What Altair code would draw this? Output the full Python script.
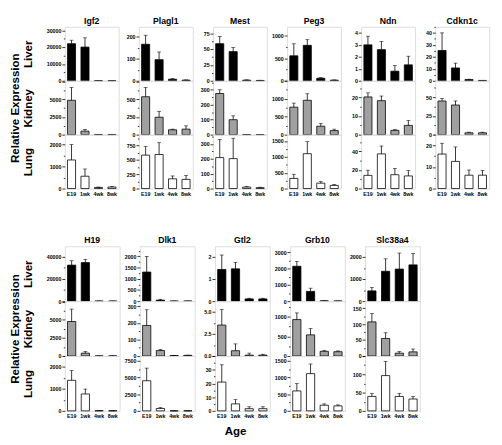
import altair as alt
import pandas as pd

ages = ["E19", "1wk", "4wk", "8wk"]
tissues = ["Liver", "Kidney", "Lung"]
tissue_fill = ["#000000", "#a0a0a0", "#ffffff"]

genes_top = ["Igf2", "Plagl1", "Mest", "Peg3", "Ndn", "Cdkn1c"]
genes_bottom = ["H19", "Dlk1", "Gtl2", "Grb10", "Slc38a4"]

# rows: Liver, Kidney, Lung ; columns: E19, 1wk, 4wk, 8wk
igf2_mean = [[22000, 20000, 80, 50], [4850, 500, 30, 30], [1300, 560, 50, 70]]
igf2_err = [[2100, 5500, 0, 0], [1800, 250, 0, 0], [700, 330, 20, 25]]
igf2_ymax = [32000, 7600, 2450]
igf2_major = [10000, 2500, 1000]

plagl1_mean = [[166, 96, 7, 3], [535, 246, 69, 78], [583, 594, 170, 160]]
plagl1_err = [[41, 35, 3, 1], [130, 83, 9, 46], [150, 206, 50, 70]]
plagl1_ymax = [245, 760, 940]
plagl1_major = [100, 250, 250]

mest_mean = [[58.5, 46, 1, 0.5], [275, 100, 1, 1], [208, 201, 10, 6]]
mest_err = [[11.5, 6.5, 0.5, 0.3], [25, 26, 0, 0], [122, 137, 5, 3]]
mest_ymax = [85, 360, 362]
mest_major = [25, 100, 100]

peg3_mean = [[556, 789, 56, 14], [765, 957, 235, 113], [320, 1100, 170, 100]]
peg3_err = [[268, 126, 14, 5], [113, 182, 78, 40], [130, 380, 50, 30]]
peg3_ymax = [1200, 1500, 1700]
peg3_major = [500, 500, 500]

ndn_mean = [[3.0, 2.6, 0.8, 1.33], [20.3, 18.3, 2.3, 5.0], [14.2, 37.3, 14.9, 13.6]]
ndn_err = [[0.72, 0.69, 0.48, 0.72], [2.2, 2.5, 0.5, 2.7], [5.5, 8.5, 6.8, 5.7]]
ndn_ymax = [4.5, 29, 58]
ndn_major = [1, 10, 20]

cdkn1c_mean = [[25.3, 10.7, 1, 0.3], [45, 39.6, 2.5, 2.5], [16, 12.6, 6.2, 6.2]]
cdkn1c_err = [[14.7, 4, 0.3, 0], [3.3, 5.4, 0.8, 0.8], [5, 6.7, 2.4, 2.2]]
cdkn1c_ymax = [45, 72, 25]
cdkn1c_major = [10, 25, 10]

h19_mean = [[32500, 34800, 100, 50], [4780, 400, 10, 10], [1393, 770, 8, 5]]
h19_err = [[4000, 2900, 0, 0], [1720, 220, 0, 0], [444, 223, 0, 0]]
h19_ymax = [49500, 7600, 2500]
h19_major = [20000, 2500, 1000]

dlk1_mean = [[1300, 45, 5, 5], [185, 33, 3, 4], [4530, 360, 10, 10]]
dlk1_err = [[700, 40, 0, 0], [95, 6, 1, 1], [1900, 130, 0, 0]]
dlk1_ymax = [2450, 332, 8250]
dlk1_major = [500, 100, 2500]

gtl2_mean = [[1.42, 1.45, 0.1, 0.1], [3.5, 0.6, 0.1, 0.1], [21, 5.1, 1.6, 1.6]]
gtl2_err = [[0.65, 0.29, 0.03, 0.03], [1.75, 0.77, 0.23, 0.1], [12.6, 3.1, 1.4, 1.4]]
gtl2_ymax = [2.46, 6.2, 40]
gtl2_major = [1, 2.5, 10]

grb10_mean = [[2150, 600, 20, 10], [930, 540, 120, 110], [600, 1120, 170, 150]]
grb10_err = [[300, 200, 0, 0], [170, 160, 25, 20], [220, 290, 40, 30]]
grb10_ymax = [3380, 1400, 1650]
grb10_major = [1000, 500, 500]

slc38a4_mean = [[464, 1350, 1450, 1640], [107, 55, 9, 13], [39.5, 96.5, 39.5, 32.5]]
slc38a4_err = [[160, 565, 725, 520], [26, 18, 5, 9], [8.5, 38.5, 8.5, 7]]
slc38a4_ymax = [2480, 172, 150]
slc38a4_major = [1000, 50, 50]

gene_data = {
    "Igf2": (igf2_mean, igf2_err, igf2_ymax, igf2_major),
    "Plagl1": (plagl1_mean, plagl1_err, plagl1_ymax, plagl1_major),
    "Mest": (mest_mean, mest_err, mest_ymax, mest_major),
    "Peg3": (peg3_mean, peg3_err, peg3_ymax, peg3_major),
    "Ndn": (ndn_mean, ndn_err, ndn_ymax, ndn_major),
    "Cdkn1c": (cdkn1c_mean, cdkn1c_err, cdkn1c_ymax, cdkn1c_major),
    "H19": (h19_mean, h19_err, h19_ymax, h19_major),
    "Dlk1": (dlk1_mean, dlk1_err, dlk1_ymax, dlk1_major),
    "Gtl2": (gtl2_mean, gtl2_err, gtl2_ymax, gtl2_major),
    "Grb10": (grb10_mean, grb10_err, grb10_ymax, grb10_major),
    "Slc38a4": (slc38a4_mean, slc38a4_err, slc38a4_ymax, slc38a4_major),
}
label_formats = {("Gtl2", "Kidney"): ".1f"}

FONT = "Arial"


def make_panel(gene, ti, first_col, w, h):
    mean, err, ymax_l, major_l = gene_data[gene]
    ymax = ymax_l[ti]
    major = major_l[ti]
    minor = major / 2
    n = int(ymax / minor + 1e-9)
    vals = [round(i * minor, 6) for i in range(n + 1)]
    is_major = f"abs(datum.value / {major} - round(datum.value / {major})) < 0.001"
    limit = ymax if ti == 0 else ymax * 0.985
    label_expr = f"(({is_major}) && datum.value <= {limit}) ? datum.label : ''"
    fmt = label_formats.get((gene, tissues[ti]), "d")
    if first_col:
        title = ["Relative Expression", "Kidney"] if ti == 1 else tissues[ti]
    else:
        title = ""
    yaxis = alt.Axis(
        values=vals, labelExpr=label_expr, format=fmt, title=title,
        tickSize={"condition": {"test": is_major, "value": 3}, "value": 1.5},
        tickColor="black", tickWidth=0.8, domain=False, grid=False,
        labelFontSize=5.5, labelFont=FONT, labelFontWeight="bold", labelPadding=1,
        labelColor="black", minExtent=31, maxExtent=31,
        titleFont=FONT, titleFontSize=12, titleFontWeight="bold", titleLineHeight=13,
        titlePadding=1, titleColor="black",
    )
    yscale = alt.Scale(domain=[0, ymax], nice=False, zero=True)
    xscale = alt.Scale(domain=ages, paddingInner=0.4, paddingOuter=0.2)
    if ti == 2:
        xaxis = alt.Axis(title=None, ticks=False, domain=False, labelAngle=0,
                         labelFontSize=5.5, labelFont=FONT, labelFontWeight="bold",
                         labelPadding=3, labelColor="black")
    else:
        xaxis = None
    X = alt.X("age:N", sort=ages, scale=xscale, axis=xaxis)
    df = pd.DataFrame({
        "age": ages,
        "mean": mean[ti],
        "top": [m + e for m, e in zip(mean[ti], err[ti])],
    })
    base = alt.Chart(df)
    bars = base.mark_bar(fill=tissue_fill[ti], stroke="black", strokeWidth=0.8).encode(
        x=X, y=alt.Y("mean:Q", scale=yscale, axis=yaxis))
    rule = base.mark_rule(color="black", strokeWidth=0.8).encode(
        x=X, y=alt.Y("mean:Q", scale=yscale, axis=yaxis), y2=alt.Y2("top:Q"))
    cap = base.mark_tick(orient="horizontal", size=4, thickness=0.8, color="black").encode(
        x=X, y=alt.Y("top:Q", scale=yscale, axis=yaxis))
    props = dict(width=w, height=h)
    if ti == 0:
        props["title"] = alt.TitleParams(gene, fontSize=9, fontWeight="bold", font=FONT,
                                         offset=1, frame="group", anchor="middle",
                                         color="black")
    return alt.layer(bars, rule, cap).properties(**props)


def make_grid(genes, w, h, col_spacing, **kw):
    panels = []
    for ti in range(3):
        for gi, g in enumerate(genes):
            panels.append(make_panel(g, ti, gi == 0, w, h))
    return alt.concat(*panels, columns=len(genes),
                      spacing={"row": 0, "column": col_spacing}, bounds="flush", **kw)


top_block = make_grid(genes_top, 56, 56, 21)
bottom_block = make_grid(
    genes_bottom, 57, 57, 21,
    title=alt.TitleParams("Age", orient="bottom", fontSize=12, fontWeight="bold",
                          font=FONT, frame="bounds", anchor="middle", offset=7,
                          dx=22, color="black"))

chart = alt.vconcat(top_block, bottom_block, spacing=40).properties(
    padding={"left": 0, "top": 0, "right": 4, "bottom": 4}
).configure_view(stroke="#555555", strokeWidth=1).configure(font=FONT)

chart.save("out.html", embed_options={"renderer": "svg", "actions": False})
